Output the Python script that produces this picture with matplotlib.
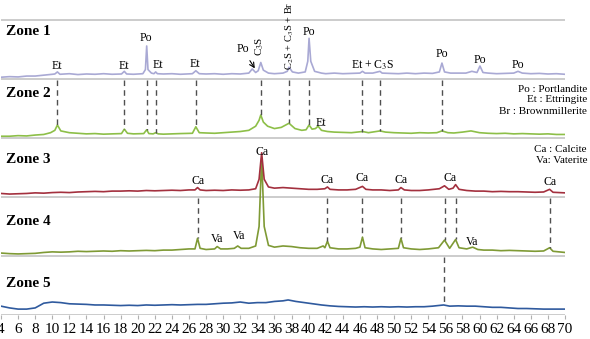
import matplotlib
matplotlib.use("Agg")
import matplotlib.pyplot as plt
import numpy as np

plt.rcParams["font.family"] = ["Liberation Serif", "DejaVu Serif"]
plt.rcParams["mathtext.fontset"] = "stix"

# 2-theta / intensity pairs, intensity in "zone units" (0..1 inside a zone)
zone1_pts = [(4,.03),(5,.04),(6,.035),(7,.05),(8,.05),(9,.065),(10,.08),(10.3,.085),(10.6,.12),(10.9,.08),
             (12,.09),(13,.075),(14,.085),(15,.08),(16,.09),(17,.08),(18.1,.085),(18.43,.13),(18.7,.085),(19.5,.08),
             (20.6,.09),(20.9,.16),(21.05,.56),(21.2,.16),(21.6,.1),(21.9,.09),(22.1,.12),(22.3,.09),(23,.085),(24,.09),
             (25,.08),(26.4,.09),(26.8,.14),(27.2,.09),(28,.085),(29,.09),(30,.08),(31,.09),(32,.085),(33,.1),
             (33.4,.17),(33.8,.11),(34.1,.14),(34.4,.28),(34.7,.15),(35.3,.1),(36,.09),(37,.1),(37.5,.13),(37.7,.2),
             (38.1,.12),(38.8,.1),(39.6,.12),(39.9,.3),(40.05,.69),(40.25,.3),(40.7,.13),(41.5,.1),(42,.09),(43,.1),
             (44,.09),(45,.095),(46,.1),(46.3,.13),(46.6,.1),(47.5,.1),(48.35,.13),(48.6,.1),(49.5,.095),(50.5,.09),
             (51.5,.1),(52.5,.09),(53.5,.1),(54.5,.095),(55.3,.12),(55.6,.27),(55.9,.12),(56.6,.1),(57.5,.1),(58.4,.1),
             (59.1,.13),(59.7,.11),(60.05,.22),(60.4,.11),(61,.1),(62,.09),(63,.095),(64,.1),(64.5,.13),(65,.1),
             (66,.09),(67,.095),(68,.085),(69,.09),(70,.08)]

zone2_pts = [(4,.03),(5,.03),(6,.04),(7,.035),(8,.05),(9,.06),(9.8,.09),(10.3,.13),(10.6,.22),(11,.12),
             (12,.09),(13,.08),(14,.07),(15,.075),(16,.065),(17,.07),(18.1,.075),(18.43,.15),(18.8,.08),(19.5,.07),
             (20.7,.075),(21.05,.14),(21.3,.075),(21.8,.07),(22.1,.09),(22.4,.07),(23,.065),(24,.07),(25,.075),(26.4,.08),
             (26.8,.19),(27.2,.09),(28,.085),(29,.08),(30,.09),(31,.1),(32,.11),(33,.13),(33.8,.2),(34.2,.3),
             (34.4,.39),(34.7,.27),(35.2,.2),(36,.16),(36.8,.18),(37.7,.25),(38.4,.16),(39.2,.13),(39.7,.14),(40.05,.22),
             (40.4,.15),(40.8,.16),(41.1,.2),(41.5,.13),(42.2,.11),(43,.1),(44,.095),(45,.09),(46.3,.11),(47,.09),
             (48.35,.12),(49,.1),(50,.09),(51,.085),(52,.08),(53,.09),(54,.085),(55,.09),(55.6,.12),(56.3,.09),
             (57,.085),(58,.1),(59,.12),(60,.09),(61,.08),(62,.075),(63,.08),(64,.07),(65,.075),(66,.07),
             (67,.065),(68,.07),(69,.06),(70,.06)]

zone3_pts = [(4,.06),(5,.05),(6,.055),(7,.06),(8,.07),(9,.065),(10,.075),(11,.08),(12,.075),(13,.085),
             (14,.09),(15,.095),(16,.09),(17,.1),(18,.1),(19,.105),(20,.1),(21,.11),(22,.105),(23,.11),
             (24,.115),(25,.11),(26,.12),(26.7,.12),(27,.16),(27.3,.12),(28,.11),(29,.115),(30,.11),(31,.12),
             (32,.115),(33,.12),(33.8,.14),(34.2,.3),(34.5,.75),(34.8,.3),(35.3,.17),(36,.15),(37,.16),(38,.15),
             (39,.14),(40,.13),(41,.13),(41.9,.14),(42.2,.17),(42.5,.13),(43.5,.12),(44.5,.12),(45.5,.13),(46.3,.18),
             (46.7,.13),(47.5,.12),(48.5,.12),(49.5,.11),(50.5,.12),(50.8,.16),(51.2,.12),(52,.11),(53,.11),(54,.12),
             (55.3,.14),(55.9,.19),(56.4,.13),(56.9,.15),(57.2,.21),(57.6,.13),(58.5,.11),(59.5,.1),(60.5,.1),(61.5,.09),
             (62.5,.095),(63.5,.09),(64.5,.09),(65.5,.085),(66.5,.08),(67.5,.085),(68.2,.13),(68.6,.08),(69.3,.075),(70,.07)]

zone4_pts = [(4,.05),(5,.04),(6,.035),(7,.04),(8,.045),(9,.06),(10,.07),(11,.065),(12,.07),(13,.08),
             (14,.075),(15,.08),(16,.085),(17,.08),(18,.09),(19,.085),(20,.09),(21,.095),(22,.09),(23,.1),
             (24,.1),(25,.11),(26,.12),(26.7,.12),(27,.3),(27.3,.13),(28,.11),(29,.12),(29.3,.16),(29.7,.12),
             (30.5,.12),(31.3,.13),(31.7,.17),(32.1,.13),(33,.13),(33.8,.17),(34.2,.5),(34.5,1.66),(34.8,.5),(35.3,.18),
             (36,.15),(37,.17),(38,.16),(39,.14),(40,.13),(41,.13),(41.7,.17),(41.9,.14),(42.2,.25),(42.5,.14),
             (43.5,.12),(44.5,.12),(45.5,.13),(46,.15),(46.3,.32),(46.6,.14),(47.5,.12),(48.5,.11),(49.5,.12),(50.5,.13),
             (50.8,.3),(51.1,.14),(52,.12),(53,.11),(54,.12),(55.2,.14),(55.9,.27),(56.5,.13),(57.2,.28),(57.6,.14),
             (58.5,.12),(59.2,.15),(59.8,.11),(60.5,.1),(61.5,.1),(62.5,.09),(63.5,.095),(64.5,.09),(65.5,.085),(66.5,.08),
             (67.5,.085),(68.2,.14),(68.6,.08),(69.3,.07),(70,.06)]

zone5_pts = [(4,.15),(5,.12),(6,.1),(7,.1),(8,.12),(8.5,.16),(9,.2),(10,.22),(11,.21),(12,.19),
             (13,.185),(14,.18),(15,.17),(16,.17),(17,.165),(18,.16),(19,.165),(20,.16),(21,.17),(22,.165),
             (23,.17),(24,.175),(25,.17),(26,.175),(27,.18),(28,.18),(29,.19),(30,.2),(31,.205),(32,.22),
             (33,.2),(34,.21),(35,.21),(36,.23),(37,.24),(37.6,.255),(38.5,.23),(39.5,.21),(40.5,.19),(41.5,.17),
             (42.5,.155),(43.5,.145),(44.5,.14),(45.5,.135),(46.5,.14),(47.5,.135),(48.5,.14),(49.5,.135),(50.5,.14),(51.5,.135),
             (52.5,.14),(53.5,.14),(54.5,.15),(55.8,.17),(56.5,.15),(57.5,.155),(58.5,.15),(59.5,.15),(60.5,.14),(61.5,.13),
             (62.5,.13),(63.5,.12),(64.5,.11),(65.5,.11),(66.5,.105),(67.5,.1),(68.5,.1),(69.5,.1),(70,.1)]

zone_names = ["Zone 1", "Zone 2", "Zone 3", "Zone 4", "Zone 5"]
zone_label_y = [4.81, 3.75, 2.63, 1.59, 0.54]
zone_colors = ["#a9a9d4", "#8dbf48", "#a3303e", "#7f9a35", "#2f5a9e"]

# dashed guide lines: (2theta, bottom end) in absolute y
dash_12 = [(10.6, 3.22), (18.43, 3.15), (21.05, 3.14), (22.1, 3.09), (26.8, 3.19), (34.4, 3.39),
           (37.7, 3.25), (40.05, 3.22), (46.3, 3.11), (48.35, 3.12), (55.6, 3.12)]
dash_34 = [(27.0, 1.30), (42.2, 1.25), (46.3, 1.32), (50.8, 1.30), (55.9, 1.27), (57.2, 1.28), (68.2, 1.14)]
dash_45 = [(55.8, 0.17)]

# peak labels (text, 2theta, y)
peak_labels = [("Et", 10.55, 4.22), ("Et", 18.4, 4.22), ("Po", 20.97, 4.69), ("Et", 22.37, 4.24),
               ("Et", 26.7, 4.25), ("Po", 40.04, 4.80), ("Po", 55.6, 4.42), ("Po", 60.05, 4.32),
               ("Po", 64.5, 4.24), ("Et", 41.4, 3.25),
               ("Ca", 27.05, 2.27), ("Ca", 34.5, 2.76), ("Ca", 42.2, 2.29), ("Ca", 46.3, 2.32),
               ("Ca", 50.8, 2.29), ("Ca", 56.55, 2.32), ("Ca", 68.2, 2.25),
               ("Va", 29.3, 1.29), ("Va", 31.85, 1.34), ("Va", 59.1, 1.24)]

fig = plt.figure(figsize=(5.9, 3.39), dpi=100)
ax = fig.add_axes([1 / 590, 24 / 339, 564 / 590, 315 / 339])
ax.set_xlim(4, 70)
ax.set_ylim(0, 315 / 59)

# zone separators
for k in range(6):
    ax.plot([4, 70], [k, k], color="#c8c8c8", lw=1.3, zorder=1)

for i, pts in enumerate([zone1_pts, zone2_pts, zone3_pts, zone4_pts, zone5_pts]):
    arr = np.array(pts)
    off = 4 - i
    ax.plot(arr[:, 0], arr[:, 1] + off, color=zone_colors[i], lw=1.2, zorder=3 if i != 3 else 2)
    ax.text(4.6, zone_label_y[i], zone_names[i], fontsize=11, fontweight="bold",
            ha="left", va="center")

for x, yb in dash_12:
    ax.plot([x, x], [3.98, yb], color="#505050", lw=1.0, ls=(0, (4, 3)), zorder=4)
for x, yb in dash_34:
    ax.plot([x, x], [1.98, yb], color="#505050", lw=1.0, ls=(0, (4, 3)), zorder=4)
for x, yb in dash_45:
    ax.plot([x, x], [0.98, yb], color="#505050", lw=1.0, ls=(0, (4, 3)), zorder=4)

for t, x, y in peak_labels:
    ax.text(x, y, t, fontsize=8.5, ha="center", va="center")

ax.text(34.3, 4.56, r"C$_3$S", fontsize=8, rotation=90, ha="center", va="center")
ax.text(37.8, 4.15, r"C$_2$S + C$_3$S + Br", fontsize=7.5, rotation=90, ha="center", va="bottom")
ax.text(47.5, 4.24, r"Et + C$_3$S", fontsize=8.5, ha="center", va="center")
ax.annotate("Po", xy=(33.7, 4.18), xytext=(32.3, 4.5), fontsize=8.5, ha="center", va="center",
            arrowprops=dict(arrowstyle="->", color="black", lw=0.8, shrinkA=2, shrinkB=0))

legend_lines = [("Po : Portlandite", 90), ("Et : Ettringite", 100), ("Br : Brownmillerite", 112),
                ("Ca : Calcite", 149), ("Va: Vaterite", 161)]
for t, py in legend_lines:
    fig.text(587 / 590, 1 - py / 339, t, fontsize=8, ha="right", va="center")

ax.set_xticks(np.arange(4, 71, 2))
ax.tick_params(axis="x", direction="out", length=3, color="#b0b0b0", labelsize=11, pad=3)
ax.set_yticks([])
for s in ax.spines.values():
    s.set_visible(False)

fig.savefig("out.png", dpi=100)
